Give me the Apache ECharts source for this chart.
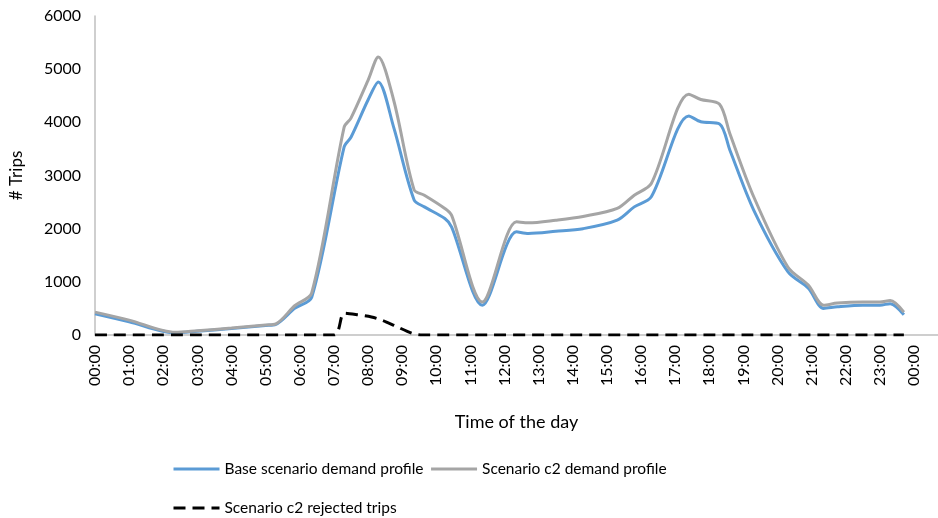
<!DOCTYPE html>
<html>
<head>
<meta charset="utf-8">
<script src="https://cdn.jsdelivr.net/npm/echarts@6/dist/echarts.min.js"></script>
<style>
  html, body { margin: 0; padding: 0; background: #fff; }
  #main { width: 938px; height: 518px; }
</style>
</head>
<body>
<div id="main"></div>
<script>
// hours of the day (x) for the two demand profiles
var hours = [0, 1, 2.35, 3, 4, 5, 5.3, 5.85, 6.35, 7.3, 7.5, 8.0, 8.3, 8.75, 9.35, 9.65, 10.25, 10.45,
  11.35, 12.35, 12.7, 13.5, 14.3, 15.3, 15.8, 16.3, 17.4, 17.75, 18.3, 18.6, 19.3, 20.3, 20.9,
  21.35, 21.75, 22.5, 23.0, 23.3, 23.7];
var baseDemand = [400, 250, 40, 70, 120, 180, 200, 500, 710, 3540, 3720, 4420, 4760, 3910, 2540, 2410, 2190, 2030,
  560, 1940, 1910, 1950, 2000, 2160, 2410, 2600, 4120, 4010, 3970, 3480, 2350, 1190, 880,
  500, 530, 560, 560, 590, 380];
var c2Demand = [430, 280, 50, 80, 130, 190, 210, 550, 790, 3910, 4080, 4790, 5230, 4420, 2730, 2630, 2380, 2250,
  620, 2130, 2110, 2160, 2230, 2380, 2630, 2850, 4530, 4430, 4340, 3790, 2600, 1280, 940,
  560, 600, 620, 620, 650, 430];
// rejected trips
var rejHours = [0, 7.0, 7.3, 7.7, 8.1, 8.4, 8.8, 9.3, 9.6, 23.7];
var rejected = [0, 0, 410, 380, 340, 280, 170, 30, 0, 0];

var seriesNames = ['Base scenario demand profile', 'Scenario c2 demand profile', 'Scenario c2 rejected trips'];

function pairs(xs, ys) {
  return xs.map(function (x, i) { return [x, ys[i]]; });
}
function hhmm(v) {
  var h = v % 24;
  return (h < 10 ? '0' : '') + h + ':00';
}

var chart = echarts.init(document.getElementById('main'), null, { renderer: 'canvas' });
var font = 'Lato, "Open Sans", sans-serif';

var legendText = { fontSize: 15.5, color: '#000', fontFamily: font };
var option = {
  animation: false,
  textStyle: { fontFamily: font },
  grid: { left: 93, right: 0, top: 16, bottom: 183 },
  legend: [
    {
      data: [seriesNames[0], seriesNames[1]],
      left: 167, top: 456,
      itemWidth: 46, itemHeight: 14, itemGap: 6,
      itemStyle: { opacity: 0 },
      lineStyle: { width: 3 },
      textStyle: legendText
    },
    {
      data: [seriesNames[2]],
      left: 167, top: 495,
      itemWidth: 46, itemHeight: 14,
      itemStyle: { opacity: 0 },
      lineStyle: { width: 3 },
      textStyle: legendText
    }
  ],
  xAxis: {
    type: 'value',
    min: 0, max: 24.7, interval: 1,
    name: 'Time of the day',
    nameLocation: 'middle',
    nameGap: 78,
    nameTextStyle: { fontSize: 18, color: '#000' },
    axisLine: { lineStyle: { color: '#BFBFBF', width: 1.5 } },
    axisTick: { show: false },
    splitLine: { show: false },
    axisLabel: {
      rotate: 90, margin: 10, fontSize: 16, color: '#000',
      formatter: function (v) { return Number.isInteger(v) ? hhmm(v) : ''; }
    }
  },
  yAxis: {
    type: 'value',
    min: 0, max: 6000, interval: 1000,
    name: '# Trips',
    nameLocation: 'middle',
    nameGap: 70,
    nameTextStyle: { fontSize: 17, color: '#000' },
    axisLine: { show: true, lineStyle: { color: '#BFBFBF', width: 1.5 } },
    axisTick: { show: false },
    splitLine: { show: false },
    axisLabel: { fontSize: 16, color: '#000', margin: 14, formatter: function (v) { return String(v); } }
  },
  series: [
    {
      name: seriesNames[0], type: 'line', smooth: 0.3, symbol: 'none',
      data: pairs(hours, baseDemand),
      itemStyle: { color: '#5B9BD5' },
      lineStyle: { color: '#5B9BD5', width: 3 }
    },
    {
      name: seriesNames[1], type: 'line', smooth: 0.3, symbol: 'none',
      data: pairs(hours, c2Demand),
      itemStyle: { color: '#A5A5A5' },
      lineStyle: { color: '#A5A5A5', width: 3 }
    },
    {
      name: seriesNames[2], type: 'line', smooth: 0.3, symbol: 'none',
      data: pairs(rejHours, rejected),
      itemStyle: { color: '#000' },
      lineStyle: { color: '#000', width: 3, type: [12, 7] }
    }
  ]
};

chart.setOption(option);
</script>
</body>
</html>
